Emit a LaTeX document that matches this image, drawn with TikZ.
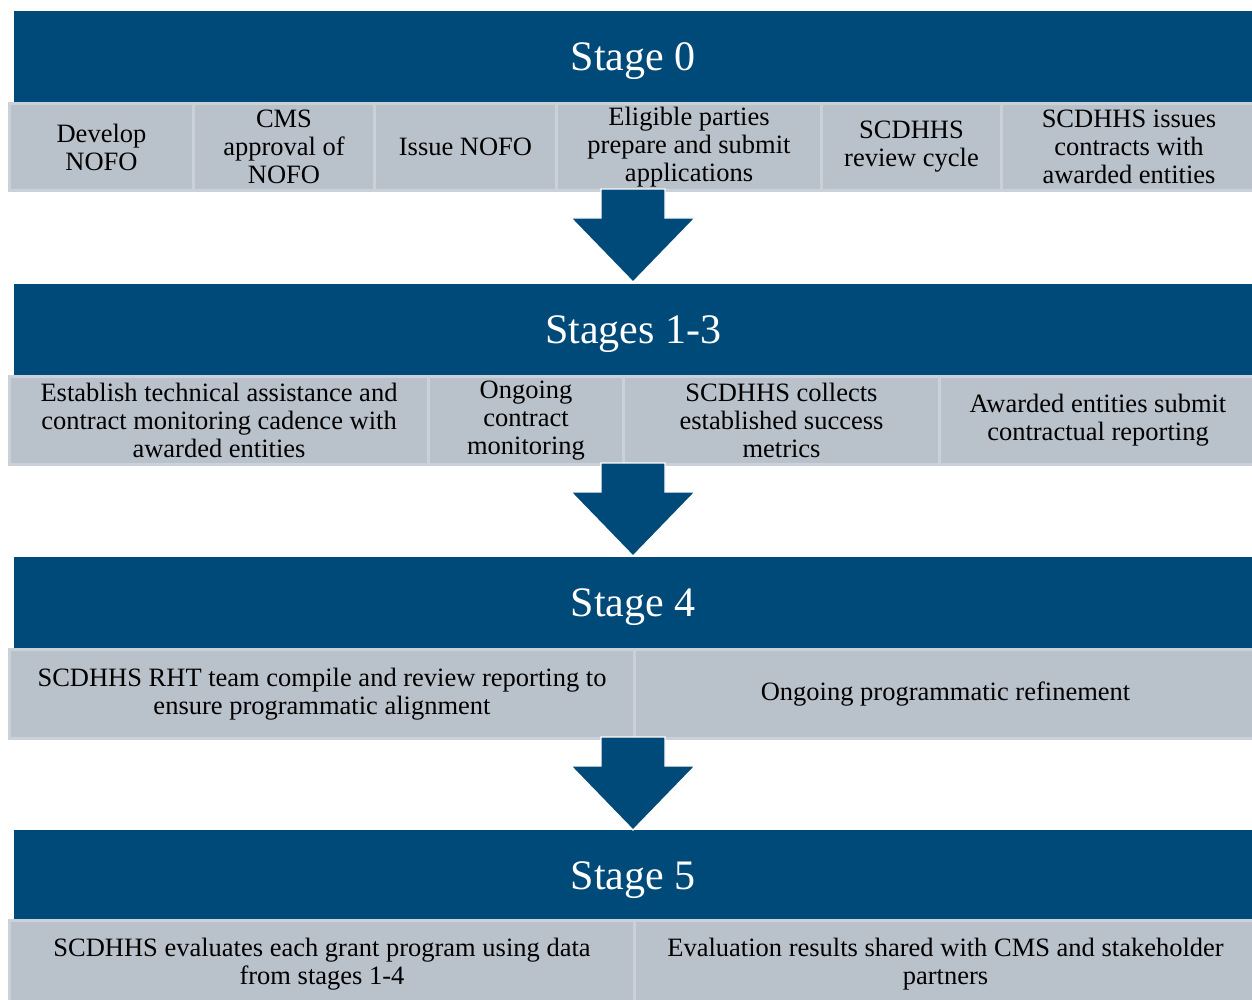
\documentclass[tikz,border=0pt]{standalone}
\usepackage{fontspec}
\setmainfont{Liberation Serif}
\definecolor{barblue}{RGB}{0,74,121}
\definecolor{cellgray}{RGB}{185,193,203}
\definecolor{cellline}{RGB}{203,209,216}
\tikzset{
  bar/.style={fill=barblue, draw=none, anchor=north west, minimum width=1238pt, minimum height=91pt, inner sep=0pt, text=white, text depth=0pt, font=\fontsize{42}{48}\selectfont},
  cell/.style={fill=cellgray, draw=cellline, line width=3pt, anchor=north west, inner sep=0pt, align=center, text=black, font=\fontsize{26.5}{28}\selectfont},
  blockarrow/.style={fill=barblue, draw=white, line width=1.2pt, line join=miter}
}
\newcommand{\blockarr}[1]{%
  \path[blockarrow] (601,#1) -- (665,#1) -- (665,#1+29) -- (695,#1+29) -- (633,#1+93) -- (571,#1+29) -- (601,#1+29) -- cycle;}
\begin{document}
\begin{tikzpicture}[x=1pt,y=-1pt]
\useasboundingbox (0,0) rectangle (1252,1000);
\begin{scope}
\clip (0,0) rectangle (1252,1000);
% Stage 0
\node[bar] (b0) at (14,11) {Stage 0};
\node[cell, minimum width=184pt, minimum height=87pt] (c01) at (8,102) {Develop\\NOFO};
\node[cell, minimum width=181pt, minimum height=87pt] (c02) at (192,102) {CMS\\approval of\\NOFO};
\node[cell, minimum width=182pt, minimum height=87pt] (c03) at (373,102) {Issue NOFO};
\node[cell, minimum width=265pt, minimum height=87pt] (c04) at (555,102) {Eligible parties\\prepare and submit\\applications};
\node[cell, minimum width=180pt, minimum height=87pt] (c05) at (820,102) {SCDHHS\\review cycle};
\node[cell, minimum width=255pt, minimum height=87pt] (c06) at (1000,102) {SCDHHS issues\\contracts with\\awarded entities};
% Stages 1-3
\node[bar] (b1) at (14,284) {Stages 1-3};
\node[cell, minimum width=419pt, minimum height=88pt] (c11) at (8,375) {Establish technical assistance and\\contract monitoring cadence with\\awarded entities};
\node[cell, minimum width=195pt, minimum height=88pt] (c12) at (427,375) {Ongoing\\contract\\monitoring};
\node[cell, minimum width=316pt, minimum height=88pt] (c13) at (622,375) {SCDHHS collects\\established success\\metrics};
\node[cell, minimum width=317pt, minimum height=88pt] (c14) at (938,375) {Awarded entities submit\\contractual reporting};
% Stage 4
\node[bar] (b2) at (14,557) {Stage 4};
\node[cell, minimum width=625pt, minimum height=89pt] (c21) at (8,648) {SCDHHS RHT team compile and review reporting to\\ensure programmatic alignment};
\node[cell, minimum width=622pt, minimum height=89pt] (c22) at (633,648) {Ongoing programmatic refinement};
% Stage 5
\node[bar] (b3) at (14,830) {Stage 5};
\node[cell, minimum width=625pt, minimum height=88pt] (c31) at (8,919) {SCDHHS evaluates each grant program using data\\from stages 1-4};
\node[cell, minimum width=622pt, minimum height=88pt] (c32) at (633,919) {Evaluation results shared with CMS and stakeholder\\partners};
% arrows
\blockarr{189}
\blockarr{463}
\blockarr{737}
\end{scope}
\end{tikzpicture}
\end{document}
